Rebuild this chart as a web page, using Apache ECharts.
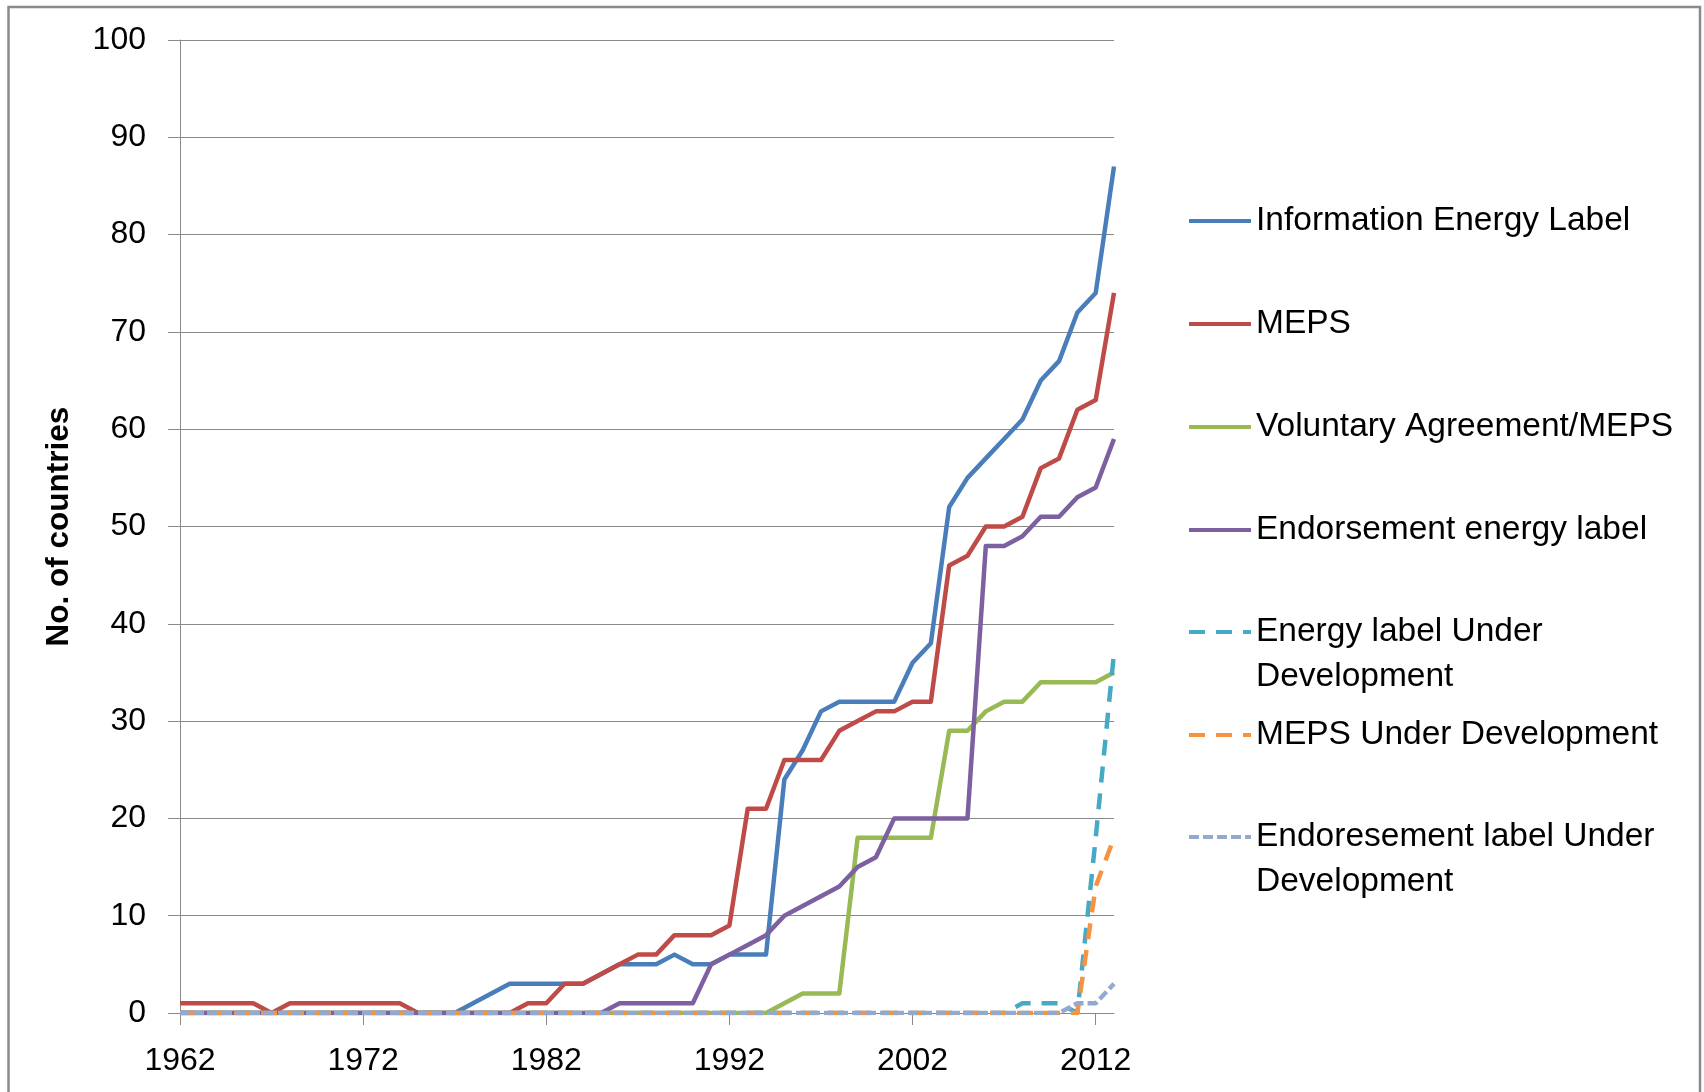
<!DOCTYPE html>
<html>
<head>
<meta charset="utf-8">
<script src="https://cdn.jsdelivr.net/npm/echarts@6/dist/echarts.min.js"></script>
<style>
  html, body { margin: 0; padding: 0; background: #fff; }
  #chart { width: 1704px; height: 1092px; }
</style>
</head>
<body>
<div id="chart"></div>
<script>
// categories: one point per year
const years = [
  '1962', '1963', '1964', '1965', '1966', '1967', '1968', '1969', '1970', '1971',
  '1972', '1973', '1974', '1975', '1976', '1977', '1978', '1979', '1980', '1981',
  '1982', '1983', '1984', '1985', '1986', '1987', '1988', '1989', '1990', '1991',
  '1992', '1993', '1994', '1995', '1996', '1997', '1998', '1999', '2000', '2001',
  '2002', '2003', '2004', '2005', '2006', '2007', '2008', '2009', '2010', '2011',
  '2012', '2013'
]

const infoLabel = [
  0, 0, 0, 0, 0, 0, 0, 0, 0, 0,
  0, 0, 0, 0, 0, 0, 1, 2, 3, 3,
  3, 3, 3, 4, 5, 5, 5, 6, 5, 5,
  6, 6, 6, 24, 27, 31, 32, 32, 32, 32,
  36, 38, 52, 55, 57, 59, 61, 65, 67, 72,
  74, 87
]
const meps = [
  1, 1, 1, 1, 1, 0, 1, 1, 1, 1,
  1, 1, 1, 0, 0, 0, 0, 0, 0, 1,
  1, 3, 3, 4, 5, 6, 6, 8, 8, 8,
  9, 21, 21, 26, 26, 26, 29, 30, 31, 31,
  32, 32, 46, 47, 50, 50, 51, 56, 57, 62,
  63, 74
]
const voluntary = [
  0, 0, 0, 0, 0, 0, 0, 0, 0, 0,
  0, 0, 0, 0, 0, 0, 0, 0, 0, 0,
  0, 0, 0, 0, 0, 0, 0, 0, 0, 0,
  0, 0, 0, 1, 2, 2, 2, 18, 18, 18,
  18, 18, 29, 29, 31, 32, 32, 34, 34, 34,
  34, 35
]
const endorsement = [
  0, 0, 0, 0, 0, 0, 0, 0, 0, 0,
  0, 0, 0, 0, 0, 0, 0, 0, 0, 0,
  0, 0, 0, 0, 1, 1, 1, 1, 1, 5,
  6, 7, 8, 10, 11, 12, 13, 15, 16, 20,
  20, 20, 20, 20, 48, 48, 49, 51, 51, 53,
  54, 59
]
const energyDev = [
  0, 0, 0, 0, 0, 0, 0, 0, 0, 0,
  0, 0, 0, 0, 0, 0, 0, 0, 0, 0,
  0, 0, 0, 0, 0, 0, 0, 0, 0, 0,
  0, 0, 0, 0, 0, 0, 0, 0, 0, 0,
  0, 0, 0, 0, 0, 0, 1, 1, 1, 0,
  18, 37
]
const mepsDev = [
  0, 0, 0, 0, 0, 0, 0, 0, 0, 0,
  0, 0, 0, 0, 0, 0, 0, 0, 0, 0,
  0, 0, 0, 0, 0, 0, 0, 0, 0, 0,
  0, 0, 0, 0, 0, 0, 0, 0, 0, 0,
  0, 0, 0, 0, 0, 0, 0, 0, 0, 0,
  13, 18
]
const endorseDev = [
  0, 0, 0, 0, 0, 0, 0, 0, 0, 0,
  0, 0, 0, 0, 0, 0, 0, 0, 0, 0,
  0, 0, 0, 0, 0, 0, 0, 0, 0, 0,
  0, 0, 0, 0, 0, 0, 0, 0, 0, 0,
  0, 0, 0, 0, 0, 0, 0, 0, 0, 1,
  1, 3
]

const seriesNames = [
  'Information Energy Label',
  'MEPS',
  'Voluntary Agreement/MEPS',
  'Endorsement energy label',
  'Energy label Under Development',
  'MEPS Under Development',
  'Endoresement label Under Development'
]
// how each name is broken in the legend (leading blank line keeps the icon on the first line)
const legendText = [
  'Information Energy Label',
  'MEPS',
  'Voluntary Agreement/MEPS',
  'Endorsement energy label',
  ' \nEnergy label Under\nDevelopment',
  'MEPS Under Development',
  ' \nEndoresement label Under\nDevelopment'
]

const FONT = '"Liberation Sans", Arial, sans-serif'
const GRID_GREY = '#898989'
const LEGEND_LINE_H = 45

const styles = [
  { color: '#4A7EBB', type: 'solid' },
  { color: '#BE4B48', type: 'solid' },
  { color: '#98B954', type: 'solid' },
  { color: '#7D60A0', type: 'solid' },
  { color: '#46AAC5', type: [16, 11] },
  { color: '#F69240', type: [16, 11] },
  { color: '#93A9D0', type: [10, 4] }
]
const values = [infoLabel, meps, voluntary, endorsement, energyDev, mepsDev, endorseDev]

// icon centre of each legend row
const legendY = [221, 324, 427, 530, 632, 735, 837]

const legends = seriesNames.map((name, i) => {
  const nLines = legendText[i].split('\n').length
  return {
    data: [name],
    orient: 'vertical',
    left: 1187,
    top: legendY[i] - (nLines * LEGEND_LINE_H) / 2,
    padding: 0,
    itemWidth: 62,
    itemHeight: 14,
    selectedMode: false,
    itemStyle: { opacity: 0 },
    lineStyle: { width: 4 },
    formatter: () => legendText[i],
    textStyle: {
      fontFamily: FONT,
      fontSize: 33.5,
      color: '#000',
      lineHeight: LEGEND_LINE_H
    }
  }
})

const chart = echarts.init(document.getElementById('chart'))

chart.setOption({
  animation: false,
  backgroundColor: '#fff',
  grid: { left: 180, top: 40, width: 934, height: 973 },
  legend: legends,
  xAxis: {
    type: 'category',
    data: years,
    boundaryGap: false,
    axisLine: { lineStyle: { color: GRID_GREY, width: 1 } },
    axisTick: { interval: 9, length: 12, lineStyle: { color: GRID_GREY } },
    axisLabel: {
      interval: 9,
      margin: 32,
      fontFamily: FONT,
      fontSize: 32,
      color: '#000'
    },
    splitLine: { show: false }
  },
  yAxis: {
    type: 'value',
    min: 0,
    max: 100,
    interval: 10,
    name: 'No. of countries',
    nameLocation: 'middle',
    nameRotate: 90,
    nameGap: 105,
    nameTextStyle: {
      fontFamily: FONT,
      fontSize: 31.5,
      fontWeight: 'bold',
      color: '#000'
    },
    axisLine: { show: true, lineStyle: { color: GRID_GREY, width: 1 } },
    axisTick: { show: true, length: 12, lineStyle: { color: GRID_GREY } },
    axisLabel: {
      margin: 34,
      fontFamily: FONT,
      fontSize: 32,
      color: '#000'
    },
    splitLine: { lineStyle: { color: GRID_GREY, width: 1 } }
  },
  series: seriesNames.map((name, i) => ({
    name,
    type: 'line',
    data: values[i],
    symbol: 'none',
    smooth: false,
    lineStyle: {
      color: styles[i].color,
      width: 4.5,
      type: styles[i].type,
      join: 'round'
    },
    itemStyle: { color: styles[i].color },
    z: 2 + i
  })),
  graphic: [{
    type: 'rect',
    silent: true,
    z: 100,
    shape: { x: 8.5, y: 7, width: 1691.5, height: 1200 },
    style: { fill: 'none', stroke: '#8a8a8a', lineWidth: 2.5 }
  }]
})
</script>
</body>
</html>
